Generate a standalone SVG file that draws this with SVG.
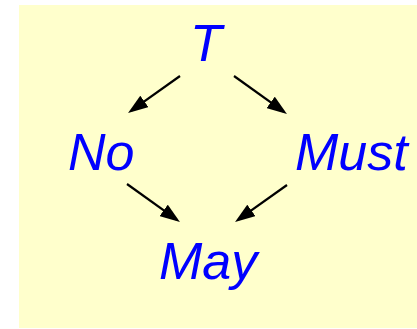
<svg xmlns="http://www.w3.org/2000/svg" width="417" height="329" viewBox="0 0 417 329">
<style>
.lbl{font-family:"Liberation Sans",Arial,sans-serif;font-style:italic;font-size:52px;fill:#0000FF}
.edge{stroke:#000;stroke-width:2.2;fill:none;marker-end:url(#ah)}
</style>
<defs>
<marker id="ah" markerUnits="userSpaceOnUse" markerWidth="20" markerHeight="14" refX="16" refY="7" orient="auto">
<path d="M0,0 L20,7 L0,14 z" fill="#000"/>
</marker>
</defs>
<rect x="0" y="0" width="417" height="329" fill="#fff"/>
<rect x="19" y="5" width="398" height="323" fill="#FFFFCC"/>
<g id="connectors">
<line class="edge" x1="180" y1="76" x2="131.3" y2="110.7"/>
<line class="edge" x1="234" y1="76" x2="283.7" y2="111.7"/>
<line class="edge" x1="127" y1="184" x2="176.7" y2="219.7"/>
<line class="edge" x1="287" y1="185" x2="238.3" y2="219.7"/>
</g>
<g id="node-T"><text class="lbl" x="206" y="61" text-anchor="middle">T</text></g>
<g id="node-No"><text class="lbl" x="68" y="170">No</text></g>
<g id="node-Must"><text class="lbl" x="295" y="170">Must</text></g>
<g id="node-May"><text class="lbl" x="159" y="279">May</text></g>
</svg>
